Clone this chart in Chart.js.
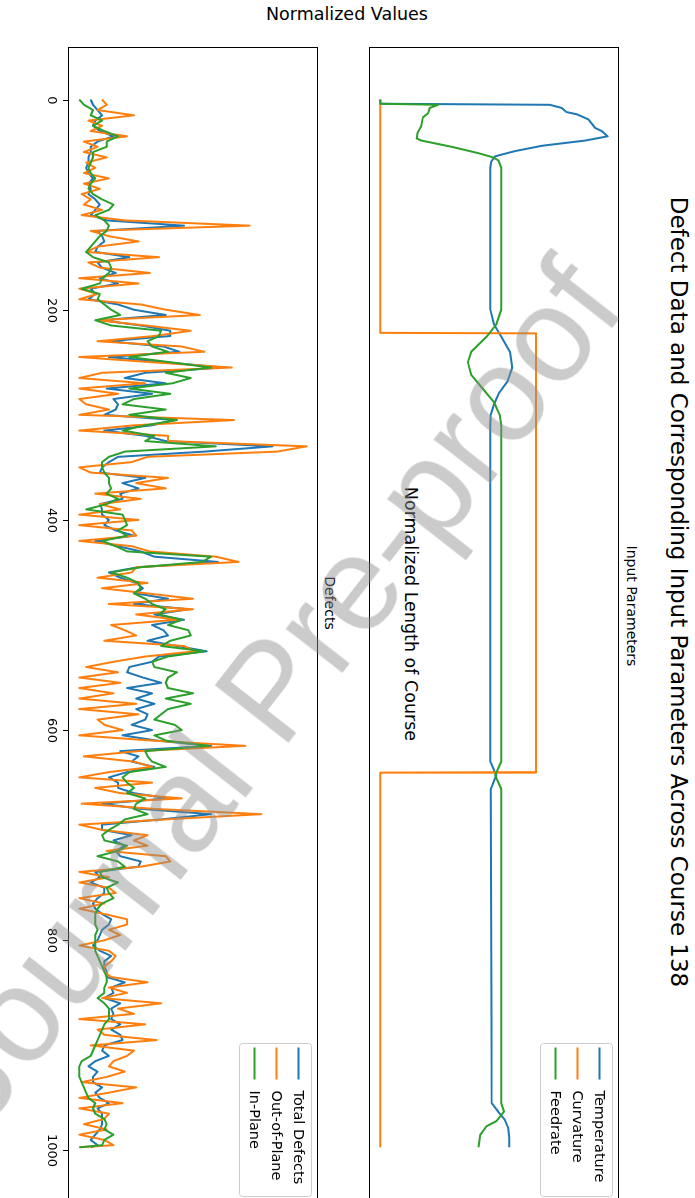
<!DOCTYPE html>
<html>
<head>
<meta charset="utf-8">
<script src="https://cdn.jsdelivr.net/npm/chart.js@4.4.0/dist/chart.umd.min.js"></script>
<style>
html,body{margin:0;padding:0;background:#fff;overflow:hidden;width:695px;height:1198px;}
#fig{position:absolute;left:0;top:0;width:1210px;height:695px;transform-origin:0 0;transform:translate(695px,0) rotate(90deg);font-family:"DejaVu Sans",sans-serif;color:#000;}
.txt{position:absolute;white-space:nowrap;transform:translate(-50%,-50%);line-height:1;}
.cv{position:absolute;}
#wm{position:absolute;left:270px;top:690px;transform:translate(-50%,-50%) rotate(-52deg);font-family:"Liberation Sans",Arial,sans-serif;font-size:135px;color:rgba(140,140,140,0.45);white-space:nowrap;line-height:1;pointer-events:none;}
</style>
</head>
<body>
<div id="fig">
  <div class="txt" style="left:592px;top:17px;font-size:23px;">Defect Data and Corresponding Input Parameters Across Course 138</div>
  <div class="txt" style="left:15px;top:348px;font-size:17.5px;transform:translate(-50%,-50%) rotate(-90deg);">Normalized Values</div>
  <div class="txt" style="left:606px;top:63px;font-size:14px;">Input Parameters</div>
  <div class="txt" style="left:603px;top:365px;font-size:14px;">Defects</div>
  <div class="txt" style="left:614px;top:285px;font-size:17.5px;">Normalized Length of Course</div>
  <div class="cv" style="left:47px;top:76px;"><canvas id="c1" width="1156" height="250"></canvas></div>
  <div class="cv" style="left:47px;top:377px;"><canvas id="c2" width="1156" height="290"></canvas></div>
</div>
<div id="wm">Journal Pre-proof</div>
<script>
// ---------- Input parameters ----------
const tempL = [0, 4, 5, 8, 12, 14, 19, 27, 30, 35, 39, 44, 49, 54, 59, 65, 200, 214, 225, 240, 255, 268, 280, 290, 300, 310, 630, 643, 656, 955, 963, 971, 979, 988, 997];
const tempV = [0, 0, 0.745, 0.798, 0.82, 0.864, 0.916, 0.945, 0.974, 1.0, 0.902, 0.711, 0.594, 0.505, 0.488, 0.484, 0.484, 0.50, 0.53, 0.57, 0.58, 0.56, 0.52, 0.50, 0.486, 0.484, 0.484, 0.51, 0.486, 0.49, 0.518, 0.548, 0.563, 0.567, 0.567];

const curvL = [0, 222, 222.5, 640, 640.5, 997];
const curvV = [0, 0, 0.685, 0.685, 0, 0];

const feedL = [0, 4, 5, 8, 13, 17, 25, 32, 37, 39, 45, 51, 55, 58, 65, 200, 214, 225, 240, 250, 262, 275, 288, 300, 310, 630, 643, 656, 955, 963, 972, 977, 985, 997];
const feedV = [0, 0, 0.254, 0.217, 0.21, 0.187, 0.18, 0.163, 0.16, 0.18, 0.314, 0.431, 0.496, 0.52, 0.532, 0.532, 0.51, 0.47, 0.40, 0.385, 0.40, 0.45, 0.50, 0.525, 0.532, 0.532, 0.505, 0.532, 0.532, 0.544, 0.511, 0.467, 0.44, 0.432];

// ---------- Defects ----------
const defL = [0,5,10,15,20,25,30,35,40,45,50,55,60,65,70,75,80,85,90,95,
100,105,110,115,120,125,130,135,140,145,150,155,160,165,170,175,180,185,190,195,
200,205,210,215,220,225,230,235,240,245,250,255,260,265,270,275,280,285,290,295,
300,305,310,315,320,325,330,335,340,345,350,355,360,365,370,375,380,385,390,395,
400,405,410,415,420,425,430,435,440,445,450,455,460,465,470,475,480,485,490,495,
500,505,510,515,520,525,530,535,540,545,550,555,560,565,570,575,580,585,590,595,
600,605,610,615,620,625,630,635,640,645,650,655,660,665,670,675,680,685,690,695,
700,705,710,715,720,725,730,735,740,745,750,755,760,765,770,775,780,785,790,795,
800,805,810,815,820,825,830,835,840,845,850,855,860,865,870,875,880,885,890,895,
900,905,910,915,920,925,930,935,940,945,950,955,960,965,970,975,980,985,990,995,997];

const totalDefects = [0.05,0.06,0.08,0.10,0.07,0.06,0.09,0.15,0.08,0.05,0.05,0.04,0.04,0.03,0.04,0.06,0.04,0.05,0.04,0.07,
0.09,0.07,0.05,0.12,0.46,0.08,0.10,0.11,0.08,0.07,0.22,0.08,0.10,
0.16,0.09,0.17,0.05,0.07,0.04,0.17,0.24,0.38,0.10,0.27,0.40,0.40,0.13,0.37,0.44,0.13,0.38,0.63,0.29,0.20,0.38,0.12,0.32,0.15,0.17,0.16,0.11,0.42,0.32,0.11,0.29,0.38,0.85,
0.55,0.17,0.13,0.10,0.09,0.29,0.19,0.26,0.18,0.19,0.09,0.10,0.10,0.13,0.11,0.16,0.24,0.07,0.17,0.27,0.33,0.61,0.26,0.13,0.18,0.25,0.28,0.25,0.39,0.24,0.48,0.33,0.46,0.32,
0.37,0.39,0.30,0.43,0.56,0.35,0.32,0.22,0.21,0.28,0.36,0.21,0.32,0.25,0.33,0.25,0.30,0.29,0.23,0.32,0.19,0.34,0.58,0.18,0.26,0.23,0.33,0.21,0.13,0.17,0.17,0.24,0.39,0.10,0.27,
0.58,0.36,0.10,0.10,0.23,0.15,0.20,0.16,0.18,0.27,0.26,0.07,0.09,0.05,0.11,0.11,0.08,0.06,0.07,0.10,0.14,0.13,0.10,0.09,0.08,0.06,0.09,0.14,0.11,0.11,0.12,0.12,0.20,0.14,
0.15,0.11,0.18,0.14,0.15,0.14,0.18,0.14,0.18,0.19,0.11,0.10,0.13,0.07,0.04,0.08,0.06,0.06,0.10,0.07,0.09,0.13,0.08,0.10,0.10,0.10,0.09,0.07,0.05,0.08,0.05];

const outOfPlane = [0.10,0.12,0.08,0.24,0.04,0.10,0.05,0.21,0.02,0.08,0.02,0.12,0.03,0.07,0.02,0.13,0.02,0.09,0.01,0.05,
0.02,0.10,0.01,0.20,0.75,0.05,0.13,0.26,0.08,0.03,0.35,0.04,0.09,
0.31,0.0,0.26,0.0,0.08,0.0,0.27,0.38,0.53,0.08,0.29,0.49,0.33,0.08,0.45,0.55,0.0,0.32,0.67,0.10,0.0,0.29,0.0,0.17,0.0,0.03,0.13,0.0,0.68,0.24,0.0,0.39,0.39,1.0,
0.87,0.30,0.23,0.0,0.05,0.39,0.25,0.38,0.07,0.27,0.09,0.18,0.0,0.26,0.0,0.23,0.25,0.0,0.23,0.31,0.60,0.70,0.25,0.23,0.08,0.30,0.10,0.30,0.50,0.13,0.50,0.25,0.43,0.14,
0.20,0.25,0.11,0.46,0.51,0.29,0.15,0.03,0.17,0.0,0.18,0.0,0.15,0.0,0.25,0.0,0.26,0.08,0.11,0.19,0.0,0.32,0.73,0.26,0.02,0.24,0.32,0.13,0.0,0.32,0.07,0.18,0.45,0.01,0.33,
0.80,0.38,0.0,0.10,0.30,0.24,0.30,0.12,0.38,0.40,0.27,0.0,0.13,0.0,0.13,0.16,0.0,0.11,0.0,0.11,0.21,0.21,0.13,0.18,0.11,0.0,0.13,0.16,0.14,0.11,0.11,0.14,0.30,0.13,
0.21,0.10,0.36,0.17,0.24,0.0,0.29,0.08,0.11,0.34,0.05,0.24,0.21,0.15,0.13,0.20,0.12,0.01,0.25,0.13,0.0,0.19,0.0,0.13,0.11,0.02,0.12,0.0,0.11,0.15,0.0];

const inPlane = [0.0,0.02,0.06,0.05,0.10,0.06,0.11,0.17,0.12,0.12,0.06,0.06,0.05,0.04,0.05,0.07,0.05,0.04,0.06,0.10,
0.15,0.13,0.07,0.11,0.13,0.12,0.09,0.07,0.05,0.03,0.06,0.13,0.14,
0.13,0.10,0.09,0.01,0.09,0.08,0.11,0.14,0.18,0.07,0.14,0.36,0.35,0.30,0.32,0.39,0.22,0.40,0.58,0.38,0.49,0.41,0.22,0.40,0.24,0.19,0.38,0.22,0.43,0.29,0.19,0.33,0.29,0.60,
0.20,0.13,0.10,0.10,0.11,0.13,0.13,0.14,0.12,0.17,0.12,0.03,0.19,0.20,0.21,0.17,0.21,0.10,0.16,0.21,0.58,0.54,0.27,0.14,0.21,0.26,0.27,0.24,0.29,0.32,0.38,0.35,0.45,0.39,
0.48,0.49,0.40,0.36,0.55,0.39,0.32,0.33,0.43,0.39,0.38,0.39,0.50,0.38,0.49,0.39,0.36,0.33,0.42,0.45,0.33,0.38,0.57,0.29,0.30,0.32,0.38,0.22,0.19,0.21,0.24,0.21,0.29,0.25,0.24,
0.30,0.20,0.17,0.13,0.10,0.11,0.21,0.17,0.08,0.17,0.20,0.09,0.10,0.17,0.12,0.13,0.15,0.10,0.08,0.07,0.07,0.07,0.08,0.07,0.07,0.07,0.07,0.08,0.09,0.10,0.11,0.12,0.12,0.11,
0.11,0.08,0.11,0.13,0.13,0.13,0.11,0.10,0.09,0.08,0.07,0.06,0.05,0.01,0.0,0.0,0.0,0.01,0.02,0.03,0.04,0.07,0.06,0.07,0.11,0.12,0.11,0.15,0.11,0.10,0.0];

const lengthTicks = [0, 200, 400, 600, 800, 1000];
const inputLabels = ['Temperature', 'Curvature', 'Feedrate'];
const defectLabels = ['Total Defects', 'Out-of-Plane', 'In-Plane'];
const colors = ['#1f77b4', '#ff7f0e', '#2ca02c'];

function pts(xs, ys){ return xs.map((x,i)=>({x:x, y:ys[i]})); }

const framePlugin = {
  id:'frame',
  afterDraw(chart){
    const a = chart.chartArea, ctx = chart.ctx;
    ctx.save();
    ctx.strokeStyle = '#000'; ctx.lineWidth = 1;
    ctx.strokeRect(Math.round(a.left)+0.5, Math.round(a.top)+0.5, Math.round(a.width)-1, Math.round(a.height)-1);
    ctx.restore();
  }
};

function rr(ctx, x, y, w, h, r){
  ctx.beginPath();
  ctx.moveTo(x+r, y); ctx.lineTo(x+w-r, y); ctx.quadraticCurveTo(x+w, y, x+w, y+r);
  ctx.lineTo(x+w, y+h-r); ctx.quadraticCurveTo(x+w, y+h, x+w-r, y+h);
  ctx.lineTo(x+r, y+h); ctx.quadraticCurveTo(x, y+h, x, y+h-r);
  ctx.lineTo(x, y+r); ctx.quadraticCurveTo(x, y, x+r, y); ctx.closePath();
}

const legendPlugin = {
  id:'mplLegend',
  afterDraw(chart){
    const a = chart.chartArea, ctx = chart.ctx;
    const w = 153, h = 72;
    const x0 = Math.round(a.right - 7 - w) + 0.5, y0 = Math.round(a.top + 6) + 0.5;
    ctx.save();
    rr(ctx, x0, y0, w, h, 3);
    ctx.fillStyle = 'rgba(255,255,255,0.8)'; ctx.fill();
    ctx.strokeStyle = '#cccccc'; ctx.lineWidth = 1; ctx.stroke();
    chart.data.datasets.forEach((ds, i) => {
      const yy = y0 + 13 + i*22;
      ctx.strokeStyle = ds.borderColor; ctx.lineWidth = 2;
      ctx.beginPath(); ctx.moveTo(x0+4, yy); ctx.lineTo(x0+36, yy); ctx.stroke();
      ctx.fillStyle = '#000'; ctx.font = '14.5px "DejaVu Sans"';
      ctx.textBaseline = 'middle'; ctx.textAlign = 'left';
      ctx.fillText(ds.label, x0+47, yy+1);
    });
    ctx.restore();
  }
};

const tickPlugin = {
  id:'lenTicks',
  afterDraw(chart){
    const a = chart.chartArea, ctx = chart.ctx, sx = chart.scales.x;
    ctx.save();
    ctx.strokeStyle = '#000'; ctx.lineWidth = 1; ctx.fillStyle = '#000';
    ctx.font = '13px "DejaVu Sans"'; ctx.textAlign = 'center'; ctx.textBaseline = 'middle';
    lengthTicks.forEach(t => {
      const p = Math.round(sx.getPixelForValue(t)) + 0.5;
      ctx.beginPath(); ctx.moveTo(p, a.bottom); ctx.lineTo(p, a.bottom + 5); ctx.stroke();
      ctx.fillText(String(t), p, a.bottom + 17);
    });
    ctx.restore();
  }
};

function baseOptions(bottomPad){
  return {
    responsive:false, animation:false, devicePixelRatio:1,
    layout:{padding:{left:0, right:0, top:0, bottom:bottomPad}},
    elements:{point:{radius:0, hoverRadius:0}, line:{borderWidth:2, tension:0, borderJoinStyle:'round', borderCapStyle:'butt'}},
    scales:{
      x:{type:'linear', min:-50, max:1050, display:false},
      y:{type:'linear', min:-0.05, max:1.05, display:false}
    },
    plugins:{legend:{display:false}, tooltip:{enabled:false}, title:{display:false}}
  };
}

new Chart(document.getElementById('c1'), {
  type:'line',
  data:{datasets:[
    {label:inputLabels[0], data:pts(tempL, tempV), borderColor:colors[0], backgroundColor:colors[0], fill:false, order:3},
    {label:inputLabels[1], data:pts(curvL, curvV), borderColor:colors[1], backgroundColor:colors[1], fill:false, order:2},
    {label:inputLabels[2], data:pts(feedL, feedV), borderColor:colors[2], backgroundColor:colors[2], fill:false, order:1}
  ]},
  options:baseOptions(0),
  plugins:[framePlugin, legendPlugin]
});

new Chart(document.getElementById('c2'), {
  type:'line',
  data:{datasets:[
    {label:defectLabels[0], data:pts(defL, totalDefects), borderColor:colors[0], backgroundColor:colors[0], fill:false, order:3},
    {label:defectLabels[1], data:pts(defL, outOfPlane), borderColor:colors[1], backgroundColor:colors[1], fill:false, order:2},
    {label:defectLabels[2], data:pts(defL, inPlane), borderColor:colors[2], backgroundColor:colors[2], fill:false, order:1}
  ]},
  options:baseOptions(40),
  plugins:[framePlugin, tickPlugin, legendPlugin]
});
</script>
</body>
</html>
